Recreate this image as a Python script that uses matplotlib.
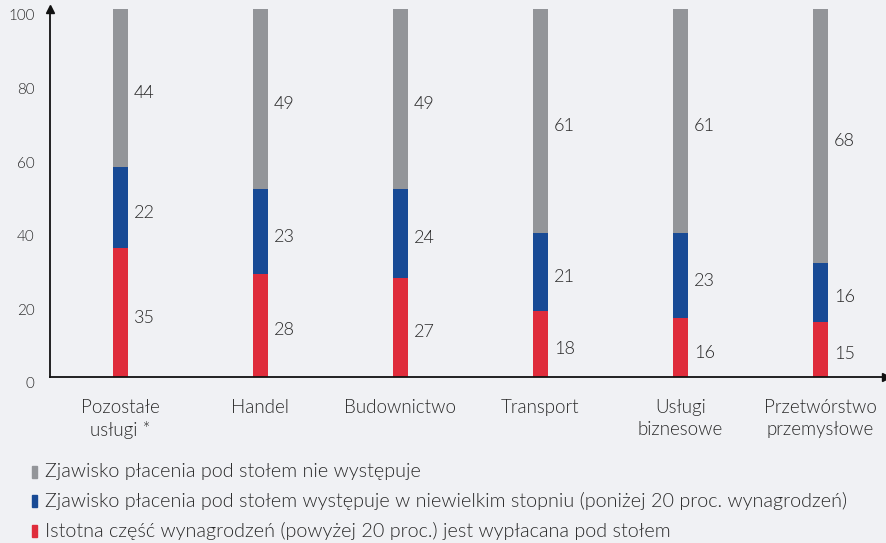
import matplotlib
matplotlib.use("Agg")
import matplotlib.pyplot as plt
import matplotlib.transforms as mtransforms
import numpy as np

categories = ["Pozostałe\nusługi *", "Handel", "Budownictwo", "Transport", "Usługi\nbiznesowe", "Przetwórstwo\nprzemysłowe"]
red_vals = [35, 28, 27, 18, 16, 15]
blue_vals = [22, 23, 24, 21, 23, 16]
gray_vals = [44, 49, 49, 61, 61, 68]
y_ticks = [0, 20, 40, 60, 80, 100]
legend_labels = [
    "Zjawisko płacenia pod stołem nie występuje",
    "Zjawisko płacenia pod stołem występuje w niewielkim stopniu (poniżej 20 proc. wynagrodzeń)",
    "Istotna część wynagrodzeń (powyżej 20 proc.) jest wypłacana pod stołem",
]

BG = "#f0f1f4"
C_GRAY = "#939599"
C_BLUE = "#184a95"
C_RED = "#df2c3b"
TXT = "#2a2a2a"
FONT = ["Lato", "DejaVu Sans"]
W = 300

plt.rcParams["font.family"] = FONT
plt.rcParams["font.weight"] = W

fig = plt.figure(figsize=(8.86, 5.43), dpi=100, facecolor=BG)
ax = fig.add_axes([50/886, 166/543, 836/886, 368/543])
ax.set_facecolor(BG)

x = np.arange(len(categories))
w = 0.107
red = np.array(red_vals)
blue = np.array(blue_vals)
gray = np.array(gray_vals)
top = 100
ax.bar(x, red, w, color=C_RED, zorder=2)
ax.bar(x, blue, w, bottom=red, color=C_BLUE, zorder=2)
ax.bar(x, top - (red + blue), w, bottom=red + blue, color=C_GRAY, zorder=2)

off = mtransforms.ScaledTranslation(14/100, -5/100, fig.dpi_scale_trans)
for i in range(len(x)):
    segs = ((0, red[i], red[i]), (red[i], blue[i], blue[i]), (red[i] + blue[i], top - red[i] - blue[i], gray[i]))
    for bot, h, val in segs:
        mid = bot + h / 2
        ax.text(x[i], mid, str(val), ha="left", va="center", fontsize=13,
                color=TXT, transform=ax.transData + off)

ax.set_xlim(-0.5, 5.47)
ax.set_ylim(0, 100)
ax.set_yticks(y_ticks)
ax.set_yticklabels([str(t) for t in y_ticks], fontsize=11, color=TXT)
ax.tick_params(axis="y", length=0, pad=11)
yoff = mtransforms.ScaledTranslation(0, -6/100, fig.dpi_scale_trans)
for lab in ax.get_yticklabels():
    lab.set_transform(lab.get_transform() + yoff)

ax.set_xticks(x)
ax.set_xticklabels(categories, fontsize=13.5, color=TXT, linespacing=1.35)
ax.tick_params(axis="x", length=0, pad=16)

for s in ["top", "right"]:
    ax.spines[s].set_visible(False)
for s in ["left", "bottom"]:
    ax.spines[s].set_linewidth(1.3)
    ax.spines[s].set_color("#111111")
    ax.spines[s].set_zorder(3)

ax.plot(1, 0, ">", transform=ax.transAxes, color="#111111", markersize=6, clip_on=False, zorder=4)
ax.plot(0, 1, "^", transform=ax.transAxes, color="#111111", markersize=6, clip_on=False, zorder=4)

# legend
colors = [C_GRAY, C_BLUE, C_RED]
ys = [472, 501, 531]
for lab, c, yy in zip(legend_labels, colors, ys):
    fy = 1 - yy / 543
    fig.patches.append(plt.Rectangle((32/886, fy - 6/543), 5/886, 12/543,
                                     transform=fig.transFigure, color=c, figure=fig))
    fig.text(45/886, fy, lab, ha="left", va="center", fontsize=14.2, color=TXT)

fig.savefig("out.png", dpi=100, facecolor=BG)
